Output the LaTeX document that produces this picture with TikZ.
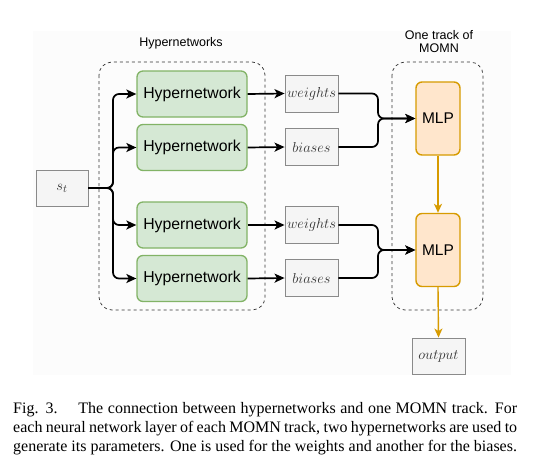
\documentclass[tikz,border=0pt]{standalone}
\usepackage{fontspec}
\setmainfont{Liberation Serif}
\newfontfamily\labelfont{Liberation Sans}
\usetikzlibrary{arrows.meta}
\definecolor{hgreenf}{HTML}{D5E8D4}
\definecolor{hgreend}{HTML}{82B366}
\definecolor{morangef}{HTML}{FFE6CC}
\definecolor{moranged}{HTML}{D79B00}
\definecolor{gboxf}{HTML}{F5F5F5}
\definecolor{gboxd}{HTML}{8A8A8A}
\definecolor{bgc}{HTML}{FCFCFC}
\tikzset{
  hyper/.style={draw=hgreend, fill=hgreenf, line width=1.3pt, rounded corners=6pt,
    minimum width=110pt, minimum height=46pt, inner sep=0pt,
    font=\labelfont\fontsize{15.8}{18}\selectfont},
  mlpbox/.style={draw=moranged, fill=morangef, line width=1.4pt, rounded corners=6pt,
    minimum width=44pt, minimum height=73pt, inner sep=0pt,
    font=\labelfont\fontsize{15.5}{18}\selectfont},
  gbox/.style={draw=gboxd, fill=gboxf, line width=0.9pt,
    minimum width=53pt, minimum height=37pt, inner sep=0pt, text=black!80,
    font=\fontsize{15}{17}\selectfont},
  grp/.style={draw=black!80, dashed, line width=0.7pt, rounded corners=13pt},
  conn/.style={draw=black, line width=1.7pt, rounded corners=6pt,
    -{Stealth[length=10pt,width=9pt,inset=2.5pt]}},
  oconn/.style={draw=moranged, line width=1.4pt,
    -{Stealth[length=9pt,width=8pt,inset=2.5pt]}},
  lab/.style={font=\labelfont\fontsize{12.5}{15}\selectfont, align=center}
}
\begin{document}
\begin{tikzpicture}[x=1pt,y=-1pt]
\useasboundingbox (0,0) rectangle (546,469);
\fill[bgc] (33,31) rectangle (511,375);
% groups
\draw[grp] (99,62) rectangle (265,310);
\draw[grp] (392,62) rectangle (483,310);
\node[lab] (hlab) at (181,43) {Hypernetworks};
\node[lab] (tlab) at (439,42) {One track of\\[-2pt]MOMN};
% nodes
\node[gbox, minimum width=52pt, minimum height=36pt] (st) at (62,188) {$s_t$};
\node[hyper] (h1) at (192,94) {Hypernetwork};
\node[hyper] (h2) at (192,147.5) {Hypernetwork};
\node[hyper] (h3) at (192,225) {Hypernetwork};
\node[hyper] (h4) at (192,278.5) {Hypernetwork};
\node[gbox] (w1) at (311.5,93.5) {$weights$};
\node[gbox] (b1) at (311.5,147) {$biases$};
\node[gbox] (w2) at (311.5,225) {$weights$};
\node[gbox] (b2) at (311.5,278) {$biases$};
\node[mlpbox] (m1) at (438,118.5) {MLP};
\node[mlpbox] (m2) at (438,250) {MLP};
\node[gbox, minimum height=36pt] (out) at (438.5,356) {$output$};
% junctions
\coordinate (js) at (113,188);
\coordinate (jm1) at (378,118.5);
\coordinate (jm2) at (378,250);
% connectors
\draw[conn] (st.east) -- (js) |- (h1.west);
\draw[conn] (st.east) -- (js) |- (h2.west);
\draw[conn] (st.east) -- (js) |- (h3.west);
\draw[conn] (st.east) -- (js) |- (h4.west);
\draw[conn] (h1.east) -- (w1.west);
\draw[conn] (h2.east) -- (b1.west);
\draw[conn] (h3.east) -- (w2.west);
\draw[conn] (h4.east) -- (b2.west);
\draw[conn] (w1.east) -| (jm1) -- (m1.west);
\draw[conn] (b1.east) -| (jm1) -- (m1.west);
\draw[conn] (w2.east) -| (jm2) -- (m2.west);
\draw[conn] (b2.east) -| (jm2) -- (m2.west);
\draw[oconn] (m1.south) -- (m2.north);
\draw[oconn] (m2.south) -- (out.north);
% caption
\node[anchor=north west, inner sep=0pt, text width=504pt, align=justify,
  font=\fontsize{16}{19}\selectfont] (cap) at (13,402)
  {Fig. 3.\hspace{1.3em}The connection between hypernetworks and one MOMN track. For\linebreak
   each neural network layer of each MOMN track, two hypernetworks are used to\linebreak
   generate its parameters. One is used for the weights and another for the biases.};
\end{tikzpicture}
\end{document}
